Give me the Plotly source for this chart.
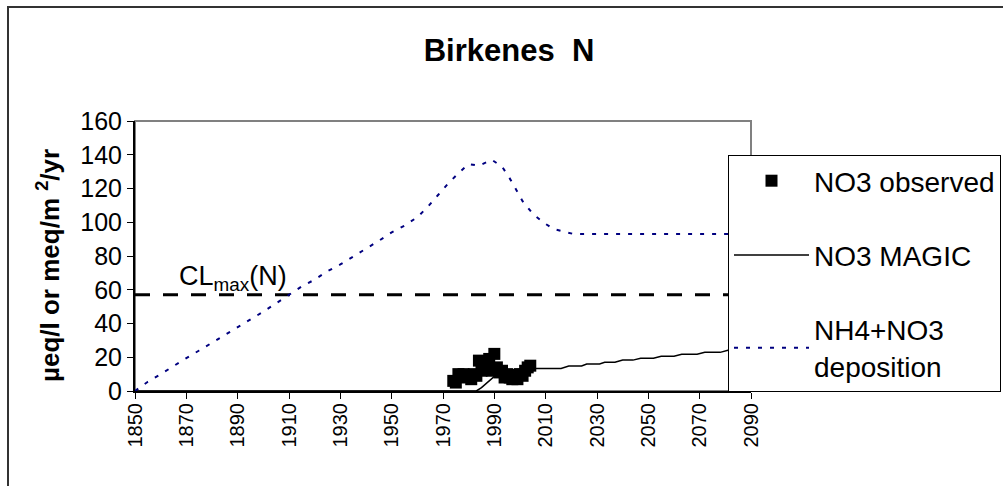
import plotly.graph_objects as go

# ---- data ----
dep_years = [1850, 1855, 1860, 1865, 1870, 1875, 1880, 1885, 1890, 1895, 1900, 1905, 1910,
             1915, 1920, 1925, 1930, 1935, 1940, 1945, 1950, 1955, 1960, 1964, 1968, 1972,
             1976, 1980, 1984, 1989, 1993, 1996, 1999, 2001, 2005, 2009, 2013, 2018, 2021, 2090]
dep_values = [0, 5.5, 10, 15, 19.5, 24, 28.5, 33, 37.5, 42, 47, 52, 57,
              62, 66, 71, 75, 79.5, 84, 89, 94, 98, 103, 109, 116, 123,
              129, 134.5, 133.5, 137, 133, 126, 118, 112.5, 105, 100, 96, 94, 93, 93]

magic_years = [1850, 1983, 1985, 1987, 1989, 1991, 1994, 1998, 2004, 2016, 2019, 2024, 2026,
               2031, 2033, 2037, 2040, 2044, 2047, 2052, 2055, 2060, 2063, 2069, 2072, 2078, 2081, 2090]
magic_values = [0, 0, 2, 4.5, 7.5, 10, 12, 12.8, 13.4, 13.4, 14.8, 14.8, 16,
                16, 17, 17, 18.3, 18.3, 19.4, 19.4, 20.6, 20.6, 21.8, 21.8, 22.9, 22.9, 24.2, 24.5]

obs_years = [1974, 1975, 1976, 1977, 1978, 1979, 1980, 1981, 1982, 1983, 1984, 1985, 1986,
             1987, 1988, 1989, 1990, 1991, 1992, 1993, 1994, 1995, 1996, 1997, 1998, 1999,
             2000, 2001, 2002, 2003, 2004]
obs_values = [6, 5, 10, 9, 10, 8, 9, 7, 10, 9, 18, 12, 16,
              14, 19, 12, 22, 14, 11, 12, 8, 10, 8, 7, 9, 7,
              10, 9, 12, 14, 15]

cl_years = [1850, 2090]
cl_values = [57, 57]

x_ticks = list(range(1850, 2091, 20))
y_ticks = list(range(0, 161, 20))

FONT = "Liberation Sans, Arial, sans-serif"

fig = go.Figure()

fig.add_trace(go.Scatter(
    x=cl_years, y=cl_values, mode="lines", showlegend=False,
    line=dict(color="black", width=3, dash="15px,13px"), hoverinfo="skip"))

fig.add_trace(go.Scatter(
    x=obs_years, y=obs_values, mode="markers", name="NO3 observed",
    legendgroup="a",
    marker=dict(symbol="square", size=12, color="black", line=dict(width=0))))

fig.add_trace(go.Scatter(
    x=magic_years, y=magic_values, mode="lines", name="NO3 MAGIC",
    legendgroup="b",
    line=dict(color="black", width=1.5)))

fig.add_trace(go.Scatter(
    x=dep_years, y=dep_values, mode="lines", name="NH4+NO3<br>deposition",
    legendgroup="c",
    line=dict(color="#000080", width=2, dash="4px,8px")))

# pixel -> paper helpers for decorative frame / placement
W, H = 1003, 486
L, R, T, B = 135, 751, 121, 391
def px_x(p):
    return (p - L) / (R - L)
def px_y(p):
    return (B - p) / (B - T)

fig.add_shape(type="rect", xref="paper", yref="paper",
              x0=px_x(8), x1=px_x(1015), y0=px_y(7), y1=px_y(495),
              line=dict(color="#333333", width=2), layer="below")
fig.add_shape(type="rect", xref="paper", yref="paper",
              x0=0, x1=1, y0=0, y1=1,
              line=dict(color="#808080", width=2), layer="below")

fig.add_annotation(x=1866.5, y=57, xref="x", yref="y", xanchor="left", yanchor="bottom",
                   text="CL<sub>max</sub>(N)", showarrow=False, yshift=-2,
                   font=dict(family=FONT, size=27, color="black"))

fig.add_annotation(x=px_x(48), y=px_y(266), xref="paper", yref="paper",
                   xanchor="center", yanchor="middle", textangle=-90,
                   text="<b>µeq/l or meq/m <sup>2</sup>/yr</b>", showarrow=False,
                   font=dict(family=FONT, size=26, color="black"))

fig.update_layout(
    width=W, height=H,
    margin=dict(l=L, r=W - R, t=T, b=H - B, autoexpand=False),
    paper_bgcolor="white", plot_bgcolor="white",
    font=dict(family=FONT, color="black"),
    title=dict(text="<b>Birkenes  N</b>", x=509 / W, xref="container", xanchor="center",
               y=1 - 50 / H, yref="container", yanchor="middle",
               font=dict(family=FONT, size=31, color="black")),
    showlegend=True,
    legend=dict(x=px_x(728), y=px_y(155), xanchor="left", yanchor="top",
                xref="paper", yref="paper",
                bgcolor="white", bordercolor="black", borderwidth=1,
                font=dict(family=FONT, size=28, color="black"),
                itemwidth=75, tracegroupgap=35, traceorder="grouped"),
    xaxis=dict(range=[1850, 2090], tickmode="array", tickvals=x_ticks,
               ticktext=[str(v) for v in x_ticks], tickangle=-90,
               ticks="outside", ticklen=6, tickcolor="black",
               ticklabelstandoff=-4,
               showline=True, linecolor="black", linewidth=2,
               showgrid=False, zeroline=False,
               tickfont=dict(family=FONT, size=20, color="black")),
    yaxis=dict(range=[0, 160], tickmode="array", tickvals=y_ticks,
               ticks="outside", ticklen=6, tickcolor="black",
               showline=True, linecolor="black", linewidth=2,
               showgrid=False, zeroline=False,
               tickfont=dict(family=FONT, size=25, color="black")),
)

fig.write_html("out.html", config={"displayModeBar": False},
               post_script="document.body.style.margin='0';")
